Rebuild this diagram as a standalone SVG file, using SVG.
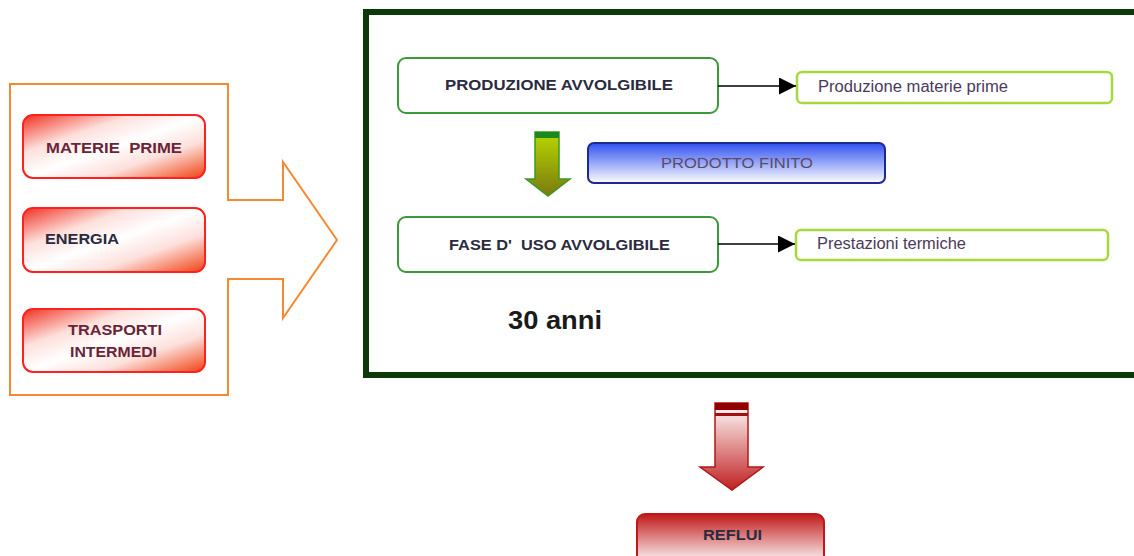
<svg xmlns="http://www.w3.org/2000/svg" width="1134" height="556" viewBox="0 0 1134 556">
<defs>
<linearGradient id="gRed" x1="0" y1="0" x2="1" y2="1">
<stop offset="0" stop-color="#f03020"/>
<stop offset="0.3" stop-color="#fde0dc"/>
<stop offset="0.5" stop-color="#ffffff"/>
<stop offset="0.7" stop-color="#fde0dc"/>
<stop offset="1" stop-color="#f04010"/>
</linearGradient>
<linearGradient id="gBlue" x1="0" y1="0" x2="0" y2="1">
<stop offset="0" stop-color="#3050f0"/>
<stop offset="1" stop-color="#ffffff"/>
</linearGradient>
<linearGradient id="gReflui" x1="0" y1="0" x2="0" y2="1">
<stop offset="0" stop-color="#c01818"/>
<stop offset="1" stop-color="#ffffff"/>
</linearGradient>
<linearGradient id="gGreenArrow" x1="0" y1="0" x2="0" y2="1">
<stop offset="0" stop-color="#b8d800"/>
<stop offset="1" stop-color="#7a7a10"/>
</linearGradient>
<linearGradient id="gRedArrow" x1="0" y1="0" x2="0" y2="1">
<stop offset="0" stop-color="#ffffff"/>
<stop offset="1" stop-color="#c02020"/>
</linearGradient>
<marker id="ah" viewBox="0 0 10 10" refX="10" refY="5" markerWidth="17" markerHeight="17" markerUnits="userSpaceOnUse" orient="auto">
<path d="M0,0 L10,5 L0,10 z" fill="#000"/>
</marker>
<style>
.redbox{fill:url(#gRed);stroke:#ff2020;stroke-width:2}
.redtxt{font-family:"Liberation Sans",Arial,sans-serif;font-weight:bold;font-size:15px;fill:#6a2438}
.gbox{fill:#fff;stroke:#3a9a3a;stroke-width:2}
.gtxt{font-family:"Liberation Sans",Arial,sans-serif;font-weight:bold;font-size:15.5px;fill:#2a2a40}
.lbox{fill:#fff;stroke:#a8d840;stroke-width:2.5}
.ltxt{font-family:"Liberation Sans",Arial,sans-serif;font-size:16px;fill:#4a3a5a}
.conn{stroke:#000;stroke-width:1.5;fill:none}
</style>
</defs>
<rect width="1134" height="556" fill="#fff"/>

<g id="input-arrow">
<path d="M10,84 L228,84 L228,200 L283,200 L283,162 L337,240 L283,318 L283,279 L228,279 L228,395 L10,395 Z" fill="#fff" stroke="#f78a30" stroke-width="2"/>
</g>

<g id="materie-prime">
<rect class="redbox" x="23" y="115" width="182" height="63" rx="10"/>
<text class="redtxt" x="46" y="153" textLength="136" lengthAdjust="spacingAndGlyphs" xml:space="preserve">MATERIE  PRIME</text>
</g>
<g id="energia">
<rect class="redbox" x="23" y="208" width="182" height="64" rx="10"/>
<text class="redtxt" x="45" y="244" textLength="74" lengthAdjust="spacingAndGlyphs" style="fill:#2a2a40">ENERGIA</text>
</g>
<g id="trasporti">
<rect class="redbox" x="23" y="309" width="182" height="63" rx="10"/>
<text class="redtxt" x="68" y="335" textLength="94" lengthAdjust="spacingAndGlyphs">TRASPORTI</text>
<text class="redtxt" x="70" y="357" textLength="87" lengthAdjust="spacingAndGlyphs">INTERMEDI</text>
</g>

<g id="frame">
<rect x="366" y="12" width="780" height="363" fill="none" stroke="#0a3a0a" stroke-width="6"/>
</g>

<g id="produzione-avvolgibile">
<rect class="gbox" x="398" y="58" width="320" height="55" rx="8"/>
<text class="gtxt" x="445" y="90" textLength="228" lengthAdjust="spacingAndGlyphs">PRODUZIONE AVVOLGIBILE</text>
</g>

<g id="green-arrow">
<path d="M535,132 L559,132 L559,179 L570,179 L548,196 L526,179 L535,179 Z" fill="url(#gGreenArrow)" stroke="#3a9a20" stroke-width="1.5"/>
<rect x="535" y="132" width="24" height="6" fill="#1a8a1a"/>
</g>

<g id="prodotto-finito">
<rect x="588" y="143" width="297" height="40" rx="6" fill="url(#gBlue)" stroke="#1a2a90" stroke-width="2"/>
<text x="661" y="168" textLength="152" lengthAdjust="spacingAndGlyphs" font-family="Liberation Sans, Arial, sans-serif" font-size="15" fill="#5a4a6a">PRODOTTO FINITO</text>
</g>

<g id="fase-uso">
<rect class="gbox" x="398" y="217" width="320" height="55" rx="8"/>
<text class="gtxt" x="449" y="250" textLength="221" lengthAdjust="spacingAndGlyphs" xml:space="preserve">FASE D'  USO AVVOLGIBILE</text>
</g>

<g id="anni">
<text x="508" y="329" textLength="94" lengthAdjust="spacingAndGlyphs" font-family="Liberation Sans, Arial, sans-serif" font-weight="bold" font-size="25" fill="#1a1a1a">30 anni</text>
</g>

<g id="produzione-materie">
<rect class="lbox" x="797" y="72" width="315" height="31" rx="5"/>
<text class="ltxt" x="818" y="92" textLength="190" lengthAdjust="spacingAndGlyphs">Produzione materie prime</text>
</g>

<g id="prestazioni">
<rect class="lbox" x="796" y="230" width="312" height="30" rx="5"/>
<text class="ltxt" x="817" y="249" textLength="149" lengthAdjust="spacingAndGlyphs">Prestazioni termiche</text>
</g>

<g id="connectors">
<line class="conn" x1="718" y1="86" x2="796" y2="86" marker-end="url(#ah)"/>
<line class="conn" x1="718" y1="244" x2="795" y2="244" marker-end="url(#ah)"/>
</g>

<g id="red-arrow">
<path d="M715,403 L748,403 L748,467 L763,467 L732,490 L700,467 L715,467 Z" fill="url(#gRedArrow)" stroke="#b01818" stroke-width="1.5"/>
<rect x="715" y="403" width="33" height="7" fill="#900000"/>
<rect x="715" y="413" width="33" height="3" fill="#a01010"/>
</g>

<g id="reflui">
<rect x="637" y="514" width="187" height="50" rx="8" fill="url(#gReflui)" stroke="#c01818" stroke-width="2"/>
<text x="703" y="540" textLength="59" lengthAdjust="spacingAndGlyphs" font-family="Liberation Sans, Arial, sans-serif" font-weight="bold" font-size="15" fill="#2a2a40">REFLUI</text>
</g>
</svg>
